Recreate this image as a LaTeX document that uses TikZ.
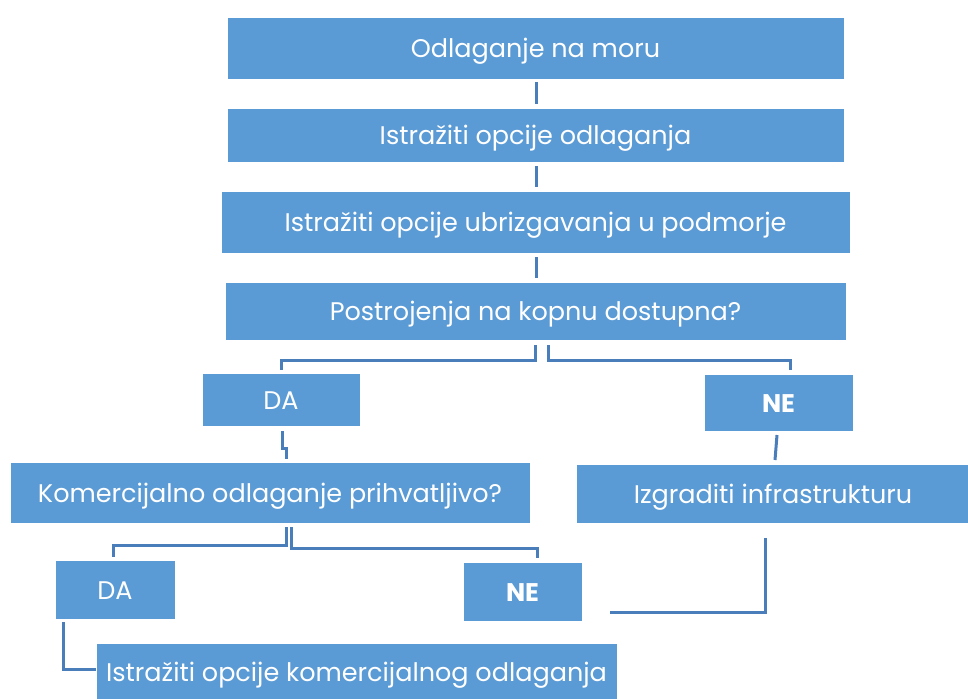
\documentclass[tikz,border=0pt]{standalone}
\usepackage{fontspec}
\setmainfont{Poppins}
\begin{document}
\begin{tikzpicture}[x=1pt,y=-1pt,
  box/.style={fill=boxblue, draw=white, line width=0.6pt, inner sep=0pt, text=white, font=\fontsize{25.5}{28}\selectfont, text height=24pt, text depth=5pt},
  link/.style={draw=lineblue, line width=3pt}]
\definecolor{boxblue}{HTML}{5B9BD5}
\definecolor{lineblue}{HTML}{4A7EBB}
\useasboundingbox (0,0) rectangle (968,698);
\node[box, minimum width=617pt, minimum height=62pt] (b1) at (535.5,48) {Odlaganje na moru};
\node[box, minimum width=617pt, minimum height=54pt] (b2) at (535.5,135) {Istražiti opcije odlaganja};
\node[box, minimum width=629pt, minimum height=62pt] (b3) at (535.5,222) {Istražiti opcije ubrizgavanja u podmorje};
\node[box, minimum width=621pt, minimum height=58pt] (b4) at (535.5,311) {Postrojenja na kopnu dostupna?};
\node[box, minimum width=158pt, minimum height=53pt] (da1) at (281,399.5) {DA};
\node[box, minimum width=149pt, minimum height=57pt, font=\fontsize{25.5}{28}\selectfont\bfseries] (ne1) at (778.5,402.5) {NE};
\node[box, minimum width=520pt, minimum height=61pt] (kom) at (270,492.5) {Komercijalno odlaganje prihvatljivo?};
\node[box, minimum width=394pt, minimum height=59pt] (izg) at (773,493.5) {Izgraditi infrastrukturu};
\node[box, minimum width=120pt, minimum height=59pt] (da2) at (115,589.5) {DA};
\node[box, minimum width=119pt, minimum height=59pt, font=\fontsize{25.5}{28}\selectfont\bfseries] (ne2) at (522.5,591.5) {NE};
\node[box, minimum width=521pt, minimum height=58pt] (ist) at (356.5,672) {Istražiti opcije komercijalnog odlaganja};
% vertical links
\draw[link] (536,82) -- (536,104);
\draw[link] (536,166) -- (536,187);
\draw[link] (536,257) -- (536,278);
% b4 to DA/NE
\draw[link] (548,345) -- (548,360) -| (790,370);
\draw[link] (535,345) -- (535,360) -| (281,370);
\draw[link] (282,431) -- (282,448) -- (286,448) -- (286,459);
\draw[link] (777,435) -- (775,460);
% kom to DA/NE
\draw[link] (286,527) -- (286,545) -| (113,557);
\draw[link] (291,527) -- (291,548) -| (537,558);
% DA2 to ist
\draw[link] (63,622) |- (96,669);
% izg to NE2
\draw[link] (765,538) |- (610,612);
\end{tikzpicture}
\end{document}
